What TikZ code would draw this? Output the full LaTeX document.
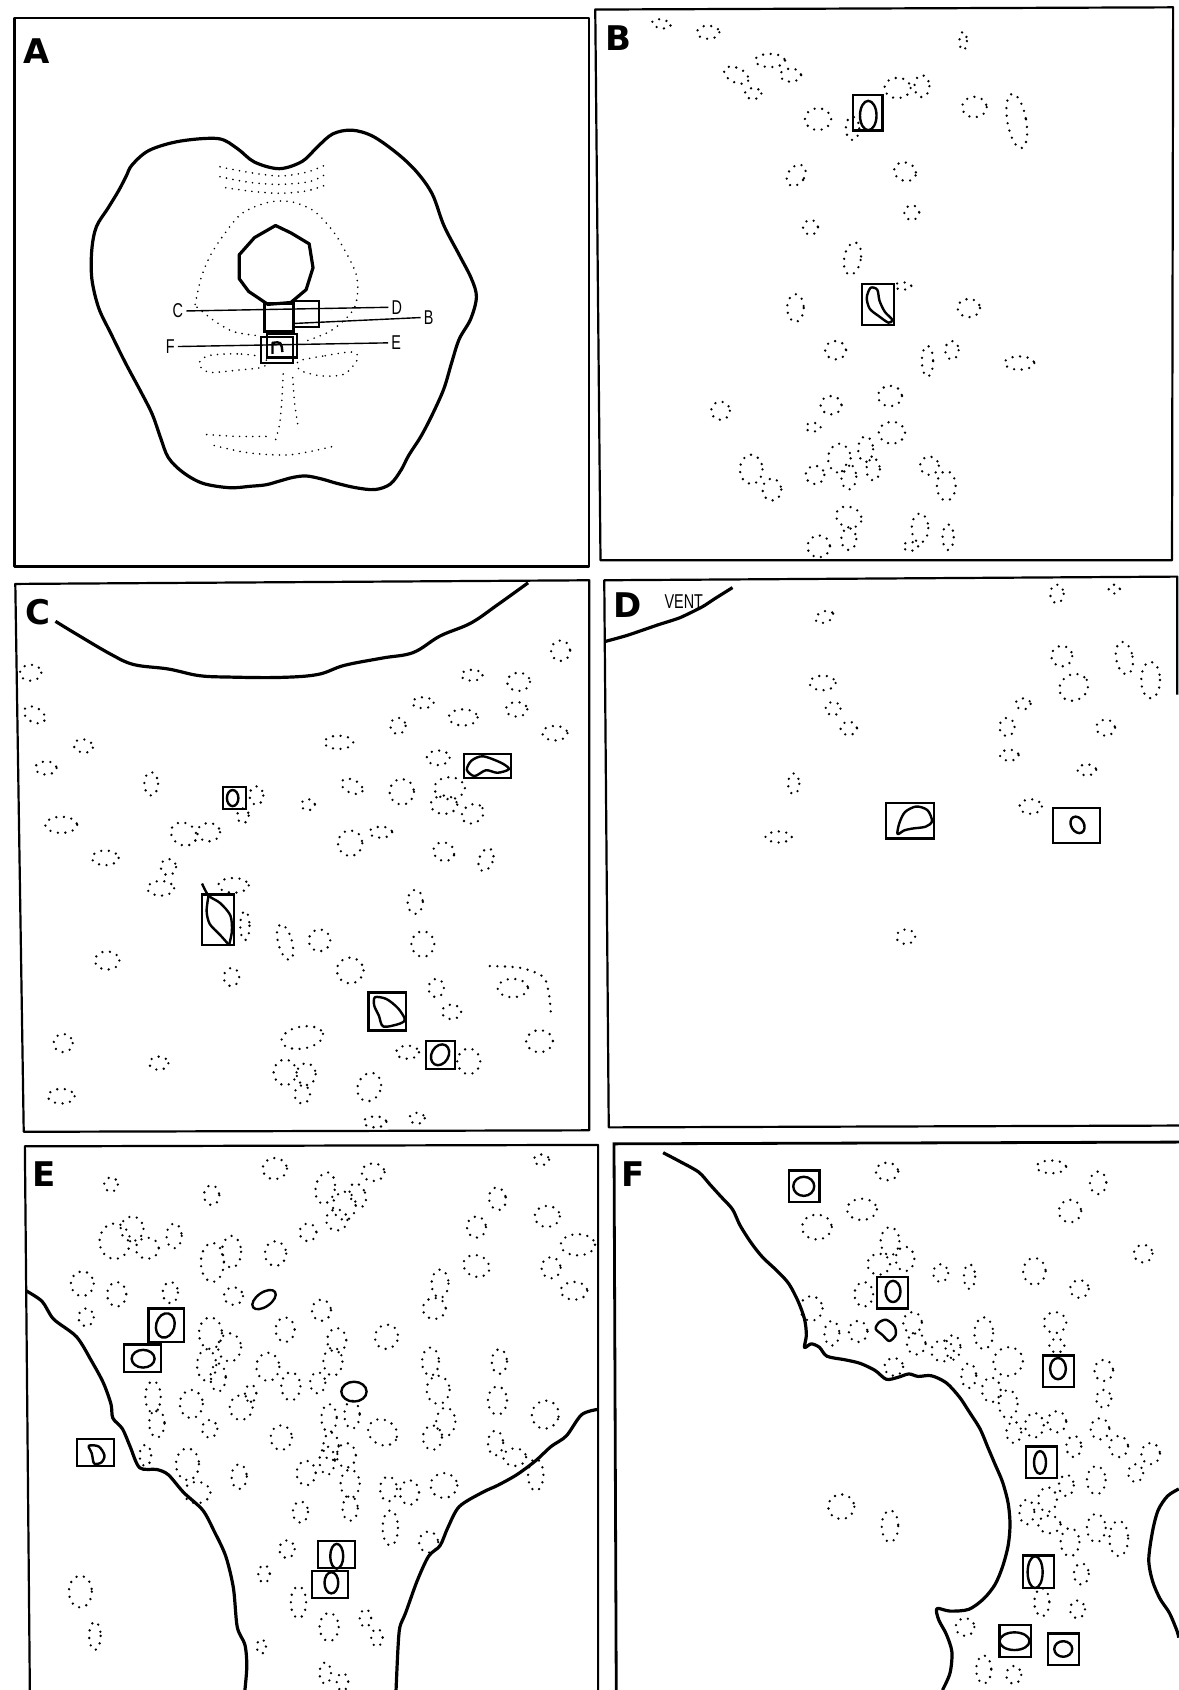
\documentclass[tikz,border=0pt]{standalone}
\usepackage{fontspec}
\newfontfamily\panelfont{DejaVu Sans}
\newfontfamily\tagfont{Liberation Sans}
\begin{document}
\begin{tikzpicture}[x=0.5pt,y=-0.5pt,
  frame/.style={line width=1.1pt, line join=round},
  outline/.style={line width=1.6pt, line join=round},
  cellbox/.style={line width=1.1pt},
  solidcell/.style={line width=1.2pt, line join=round},
  dotcell/.style={line width=1.3pt, line cap=round, dash pattern=on 0pt off 3.8pt},
  dotfine/.style={line width=0.9pt, line cap=round, dash pattern=on 0pt off 3.3pt},
  secline/.style={line width=0.7pt},
  panellabel/.style={font=\panelfont\bfseries\fontsize{17}{17}\selectfont, inner sep=0pt},
  tag/.style={font=\tagfont\fontsize{10}{10}\selectfont, inner sep=2pt, xscale=0.72, transform shape},
]
\useasboundingbox (0,0) rectangle (1178,1690);
\fill[white] (0,0) rectangle (1178,1690);

% ---------------- Panel A: whole section ----------------
\begin{scope}[shift={(0,0)}, x=0.19133pt, y=-0.18335pt]
  \draw[frame] (38,50) rectangle (1540,1545);
  \node[panellabel] (labA) at (95,140) {A};
  % cord outline
  \draw[outline] plot[smooth cycle, tension=0.55] coordinates {
    (345,450) (390,410) (470,385) (570,378) (620,405) (665,442) (730,460)
    (790,440) (830,400) (870,365) (920,355) (975,372) (1040,420) (1090,470)
    (1130,530) (1160,615) (1200,695) (1232,760) (1245,810) (1230,870)
    (1200,925) (1180,990) (1160,1060) (1130,1130) (1100,1190) (1068,1242)
    (1048,1282) (1020,1320) (980,1335) (930,1330) (880,1318) (840,1306)
    (800,1298) (765,1302) (730,1312) (695,1322) (655,1326) (600,1330)
    (530,1318) (478,1288) (440,1248) (420,1195) (398,1130) (368,1068)
    (328,990) (290,910) (258,840) (240,760) (240,680) (252,618) (282,568)
    (310,520) (330,480)};
  % central canal
  \draw[outline] (625,695) -- (665,648) -- (720,615) -- (760,635) -- (808,665)
    -- (818,730) -- (800,790) -- (760,825) -- (700,830) -- (650,795) -- (625,760) -- cycle;
  % dorsal dotted arcs
  \draw[dotfine] plot[smooth] coordinates {(575,455) (650,470) (730,480) (800,470) (850,450)};
  \draw[dotfine] plot[smooth] coordinates {(575,482) (650,497) (730,503) (810,495) (860,470)};
  \draw[dotfine] plot[smooth] coordinates {(590,512) (660,522) (730,527) (800,521) (850,505)};
  % grey matter outline
  \draw[dotfine] plot[smooth] coordinates {(510,830) (525,760) (548,700) (585,640)
    (632,582) (700,552) (760,550) (820,575) (870,630) (905,690) (930,745) (935,790)
    (928,835) (905,868) (860,905) (800,930)};
  \draw[dotfine] plot[smooth] coordinates {(515,838) (560,875) (612,905) (680,916)};
  % ventral lobes
  \draw[dotfine] plot[smooth cycle] coordinates {(690,975) (620,965) (545,970) (520,992)
    (545,1015) (615,1010) (690,1000)};
  \draw[dotfine] plot[smooth cycle] coordinates {(780,985) (850,970) (920,960) (935,978)
    (900,1020) (840,1025) (785,1010)};
  \draw[dotfine] plot[smooth] coordinates {(740,1020) (736,1100) (730,1160) (720,1200)};
  \draw[dotfine] plot[smooth] coordinates {(765,1030) (770,1100) (780,1170)};
  \draw[dotfine] plot[smooth] coordinates {(540,1185) (620,1190) (700,1190)};
  \draw[dotfine] plot[smooth] coordinates {(560,1215) (650,1235) (760,1240) (880,1215)};
  % sampled fields
  \draw[line width=1.5pt] (690,828) rectangle (768,905);
  \draw[cellbox] (765,820) rectangle (833,892);
  \draw[cellbox] (683,918) rectangle (765,990);
  \draw[cellbox] (697,910) rectangle (777,975);
  \draw[solidcell] (712,965) -- (712,935) .. controls (735,932) .. (738,960);
  % section levels
  \node[tag] (tC) at (465,848) {C};
  \node[tag] (tD) at (1037,838) {D};
  \node[tag] (tB) at (1120,866) {B};
  \node[tag] (tF) at (445,945) {F};
  \node[tag] (tE) at (1035,935) {E};
  \coordinate (bStart) at (770,882);
  \draw[secline] (tC.east) -- (tD.west);
  \draw[secline] (bStart) -- (tB.west);
  \draw[secline] (tF.east) -- (tE.west);
\end{scope}

% ---------------- Panel B ----------------
\begin{scope}[shift={(590,0)}, x=0.1875pt, y=-0.18335pt]
  \draw[frame] (14,26) -- (1555,20) -- (1552,1528) -- (28,1528) -- cycle;
  \node[panellabel] (labB) at (75,105) {B};
  \foreach \cx/\cy/\rx/\ry/\rot in {190/65/25/12/-10, 315/88/30/18/0, 480/165/40/18/0,
    390/205/35/20/-25, 535/205/28/18/0, 435/255/22/15/0, 995/112/10/25/0, 820/240/35/28/0,
    885/235/20/30/0, 608/325/35/30/0, 700/350/18/32/0, 1025/292/33/28/0, 1138/330/25/75/10,
    550/478/22/32/-35, 840/468/30/25/-20, 858/580/20/20/0, 588/620/20/20/0, 700/705/22/45/-10,
    835/780/22/10/0, 548/840/22/38/0, 1010/840/30/25/0, 655/955/28/25/0, 900/985/15/42/0,
    965/955/18/25/0, 1145/990/40/18/0, 800/1080/32/28/0, 643/1105/28/25/0, 348/1120/25/25/0,
    595/1165/20/12/0, 805/1180/35/30/0, 430/1280/30/40/0, 485/1335/25/30/0, 600/1295/25/25/0,
    665/1250/30/40/0, 735/1225/20/35/0, 690/1300/20/35/0, 755/1280/18/30/0, 905/1270/25/25/0,
    950/1325/25/40/0, 690/1410/35/28/-20, 690/1470/20/30/0, 610/1490/30/30/0, 880/1440/22/40/0,
    855/1490/20/12/0, 955/1465/15/35/0}
    \draw[dotcell, rotate around={\rot:(\cx,\cy)}] (\cx,\cy) ellipse [x radius=\rx, y radius=\ry];
  \draw[cellbox] (702,258) rectangle (780,356);
  \draw[solidcell] (742,315) ellipse [x radius=22, y radius=40];
  \draw[cellbox] (725,775) rectangle (810,887);
  \draw[solidcell] plot[smooth cycle] coordinates {(748,785) (738,812) (746,842) (770,862)
    (796,880) (806,872) (786,850) (772,820) (766,790)};
\end{scope}

% ---------------- Panel C ----------------
\begin{scope}[shift={(0,570)}, x=0.19133pt, y=-0.18335pt]
  \draw[frame] (40,38) -- (1540,28) -- (1540,1528) -- (62,1532) -- cycle;
  \node[panellabel] (labC) at (100,115) {C};
  \draw[outline] plot[smooth, tension=0.6] coordinates {(145,140) (200,175) (290,230)
    (350,258) (440,270) (520,288) (600,292) (730,293) (830,285) (900,260) (1000,240)
    (1080,225) (1150,180) (1230,145) (1300,95) (1380,35)};
  \foreach \cx/\cy/\rx/\ry/\rot in {80/280/28/22/0, 90/395/30/20/-30, 218/480/25/18/-10,
    120/540/28/18/0, 395/583/18/32/0, 160/695/42/22/0, 480/720/35/30/-30, 545/715/30/25/0,
    635/670/15/20/0, 670/615/18/25/0, 275/785/35/20/0, 440/810/20/22/0, 420/868/35/20/0,
    610/860/40/20/0, 640/970/12/40/0, 280/1065/32/25/0, 605/1110/20/25/0, 745/1015/18/50/15,
    835/1010/28/30/0, 915/1092/35/35/0, 1085/905/20/33/0, 1105/1020/30/35/0, 805/640/18/15/0,
    920/590/30/18/-25, 1050/605/32/35/0, 915/745/32/35/0, 995/715/30/15/0, 885/470/38/18/0,
    1105/362/28/15/0, 1040/425/20/22/0, 1210/402/38/22/0, 1233/287/28/15/0, 1355/305/30/25/0,
    1350/380/28/20/0, 1465/220/25/28/0, 1450/445/33/20/0, 1145/512/30/20/0, 1175/595/40/30/0,
    1160/640/35/25/0, 1235/665/30/25/30, 1160/768/28/25/-20, 1270/790/18/32/-20,
    1140/1140/20/25/0, 1180/1205/25/20/0, 1340/1140/40/25/0, 1410/1285/35/30/0,
    1065/1315/30/18/0, 1225/1340/30/35/0, 790/1275/55/30/10, 745/1370/30/35/0,
    800/1375/25/30/0, 790/1430/20/25/0, 965/1410/30/40/-20, 1090/1495/20/15/0,
    980/1505/30/15/0, 165/1290/25/25/0, 415/1345/25/18/0, 160/1435/35/20/0}
    \draw[dotcell, rotate around={\rot:(\cx,\cy)}] (\cx,\cy) ellipse [x radius=\rx, y radius=\ry];
  \draw[dotcell] plot[smooth] coordinates {(1280,1080) (1360,1085) (1420,1110) (1435,1160) (1440,1215)};
  \draw[cellbox] (583,592) rectangle (642,652);
  \draw[solidcell] (608,622) ellipse [x radius=15, y radius=22];
  \draw[cellbox] (1213,502) rectangle (1335,568);
  \draw[solidcell] plot[smooth cycle] coordinates {(1220,545) (1232,520) (1262,508)
    (1310,526) (1330,543) (1300,553) (1270,546) (1240,562)};
  \draw[cellbox] (528,885) rectangle (612,1022);
  \draw[solidcell] plot[smooth] coordinates {(528,855) (545,888) (575,908) (602,942) (606,985) (598,1025)};
  \draw[solidcell] plot[smooth] coordinates {(545,888) (540,930) (548,965) (575,995) (598,1022)};
  \draw[cellbox] (963,1152) rectangle (1062,1256);
  \draw[solidcell] plot[smooth cycle] coordinates {(980,1165) (1010,1170) (1040,1195)
    (1058,1225) (1045,1237) (1002,1245) (990,1215) (978,1188)};
  \draw[cellbox] (1113,1285) rectangle (1190,1360);
  \draw[solidcell, rotate around={-30:(1150,1322)}] (1150,1322) ellipse [x radius=22, y radius=30];
\end{scope}

% ---------------- Panel D ----------------
\begin{scope}[shift={(590,570)}, x=0.1875pt, y=-0.18335pt]
  \draw[frame] (1566,340) -- (1566,18) -- (38,28) -- (50,1520) -- (1570,1515);
  \node[panellabel] (labD) at (100,95) {D};
  \node[tag] (vent) at (250,85) {VENT};
  \draw[outline] plot[smooth, tension=0.4] coordinates {(40,195) (100,178) (180,150)
    (240,130) (300,100) (330,80) (380,48)};
  \foreach \cx/\cy/\rx/\ry/\rot in {625/128/25/15/20, 620/308/35/20/0, 648/378/20/18/0,
    690/432/22/18/0, 543/583/15/28/0, 503/728/35/15/0, 842/1000/25/20/0, 1245/65/18/25/0,
    1398/52/15/12/0, 1258/235/28/28/0, 1290/320/40/35/30, 1425/240/22/45/10,
    1495/300/25/50/0, 1155/365/20/15/0, 1112/428/20/25/0, 1118/505/25/15/0,
    1375/430/25/22/0, 1325/545/25/15/0, 1175/645/30/20/0}
    \draw[dotcell, rotate around={\rot:(\cx,\cy)}] (\cx,\cy) ellipse [x radius=\rx, y radius=\ry];
  \draw[cellbox] (790,635) rectangle (918,732);
  \draw[solidcell] plot[smooth cycle] coordinates {(820,720) (825,690) (840,660) (870,645)
    (900,655) (912,685) (895,700) (860,705) (838,710)};
  \draw[cellbox] (1235,650) rectangle (1360,745);
  \draw[solidcell, rotate around={30:(1300,695)}] (1300,695) ellipse [x radius=17, y radius=24];
\end{scope}

% ---------------- Panel E ----------------
\begin{scope}[shift={(0,1135)}, x=0.19133pt, y=-0.17698pt]
  \draw[frame] (78,1568) -- (65,32) -- (1563,28) -- (1563,1568);
  \node[panellabel] (labE) at (115,110) {E};
  \draw[outline] plot[smooth, tension=0.5] coordinates {(68,440) (110,470) (140,520)
    (200,570) (240,640) (270,700) (290,760) (295,800) (320,830) (340,880) (365,940)
    (410,945) (440,960) (480,1010) (530,1060) (560,1120) (590,1190) (610,1280) (620,1390)
    (640,1440) (645,1500) (640,1568)};
  \draw[outline] plot[smooth, tension=0.5] coordinates {(1563,775) (1520,790) (1480,850)
    (1440,880) (1400,920) (1350,960) (1300,990) (1260,1010) (1200,1050) (1170,1110)
    (1150,1160) (1120,1190) (1090,1260) (1060,1350) (1045,1390) (1040,1450) (1035,1568)};
  \foreach \cx/\cy/\rx/\ry/\rot in {290/140/18/20/0, 718/95/32/30/0, 553/170/20/28/0,
    850/150/25/45/-10, 900/200/30/40/0, 975/105/30/25/0, 935/170/20/35/20, 1415/70/20/15/0,
    1300/180/22/32/10, 1430/230/33/30/0, 1245/260/25/30/0, 805/275/22/25/0, 880/240/28/30/0,
    300/300/40/50/0, 345/265/30/35/0, 385/320/30/30/0, 455/285/20/35/0, 215/420/30/35/0,
    305/450/25/35/0, 445/445/20/30/0, 225/515/20/25/0, 555/360/30/55/0, 605/330/25/45/0,
    720/335/28/35/0, 610/455/25/25/0, 840/495/25/30/0, 550/560/30/45/0, 600/600/30/40/0,
    540/650/25/45/0, 570/685/20/40/0, 745/550/25/35/0, 880/580/25/35/0, 1010/570/30/35/-20,
    1125/640/22/40/0, 1305/640/20/35/0, 1245/370/35/30/-20, 1150/420/22/40/0,
    1135/490/30/30/0, 1510/310/45/30/0, 1440/375/25/30/0, 1500/440/35/25/0, 700/655/30/40/0,
    760/710/25/40/0, 830/700/20/30/0, 870/640/25/40/0, 400/740/20/45/0, 410/815/20/40/0,
    500/760/30/40/0, 630/770/30/35/0, 655/730/15/25/0, 548/830/20/25/0, 735/855/28/35/0,
    860/800/20/40/0, 920/790/20/40/0, 865/880/20/40/0, 905/905/25/35/0, 1000/840/40/35/-30,
    1145/720/30/40/0, 1165/810/25/40/0, 1130/855/25/35/0, 1300/750/25/40/0, 1295/870/20/35/0,
    1425/790/35/40/-20, 1400/960/20/45/0, 1345/910/30/25/0, 380/905/15/30/0, 490/930/30/45/0,
    515/1010/35/30/0, 625/965/20/35/0, 800/955/25/35/0, 855/920/20/40/0, 915/985/25/40/0,
    915/1055/20/35/0, 1015/1000/22/35/0, 1070/1010/25/35/0, 1160/990/35/35/0,
    1020/1110/20/50/0, 1120/1150/25/30/0, 785/1065/20/30/0, 750/1170/20/25/0,
    690/1240/15/25/0, 780/1320/20/45/0, 860/1390/25/40/0, 955/1365/15/25/0, 985/1420/15/25/0,
    683/1445/12/20/0, 210/1290/30/45/0, 248/1415/15/40/0, 850/1520/15/30/0, 895/1545/15/25/0}
    \draw[dotcell, rotate around={\rot:(\cx,\cy)}] (\cx,\cy) ellipse [x radius=\rx, y radius=\ry];
  \draw[solidcell, rotate around={35:(690,465)}] (690,465) ellipse [x radius=35, y radius=20];
  \draw[solidcell] (925,725) ellipse [x radius=33, y radius=28];
  \draw[cellbox] (388,490) rectangle (481,585);
  \draw[solidcell, rotate around={-15:(432,538)}] (432,538) ellipse [x radius=24, y radius=35];
  \draw[cellbox] (323,592) rectangle (420,670);
  \draw[solidcell] (374,632) ellipse [x radius=30, y radius=25];
  \draw[cellbox] (202,858) rectangle (297,935);
  \draw[solidcell] plot[smooth cycle] coordinates {(232,878) (258,880) (273,905) (265,925) (246,928) (240,900)};
  \draw[cellbox] (832,1146) rectangle (927,1224);
  \draw[solidcell] (880,1190) ellipse [x radius=17, y radius=35];
  \draw[cellbox] (815,1232) rectangle (910,1308);
  \draw[solidcell] (866,1265) ellipse [x radius=18, y radius=30];
\end{scope}

% ---------------- Panel F ----------------
\begin{scope}[shift={(590,1135)}, x=0.1875pt, y=-0.17698pt]
  \draw[line width=1.4pt] (70,1568) -- (64,25) -- (1570,20);
  \node[panellabel] (labF) at (115,110) {F};
  \draw[outline] plot[smooth, tension=0.5] coordinates {(195,50) (240,75) (290,105)
    (320,140) (350,175) (380,210) (400,255) (430,305) (460,345) (500,385) (530,420)
    (555,470) (572,520) (577,565) (572,600) (590,590) (612,600) (632,625) (680,635)
    (720,645) (760,665) (790,690) (820,685) (850,675) (875,682) (910,680) (950,700)
    (985,740) (1010,780) (1040,830) (1060,880) (1080,930) (1100,980) (1115,1040)
    (1120,1100) (1115,1160) (1100,1220) (1080,1270) (1050,1310) (1010,1340) (960,1345)
    (925,1338) (930,1370) (950,1410) (965,1460) (960,1520) (940,1568)};
  \draw[outline] plot[smooth, tension=0.5] coordinates {(1570,1000) (1540,1020) (1515,1060)
    (1500,1120) (1490,1200) (1500,1260) (1520,1310) (1545,1350) (1565,1400) (1570,1420)};
  \foreach \cx/\cy/\rx/\ry/\rot in {792/103/30/25/0, 725/210/40/30/0, 605/260/40/35/0,
    1230/90/40/18/0, 1355/135/22/32/0, 1280/215/30/32/0, 800/300/25/40/0, 770/365/30/30/0,
    840/350/25/35/0, 730/450/25/35/0, 935/390/20/25/0, 1012/400/15/35/0, 1185/385/30/38/0,
    1305/435/25/25/0, 1475/335/25/25/0, 590/490/30/35/0, 645/560/20/35/0, 715/555/25/30/0,
    860/530/25/30/0, 870/590/25/30/0, 940/610/30/30/0, 968/600/20/35/0, 810/655/25/25/0,
    1050/560/25/45/0, 1115/640/40/40/30, 1240/530/30/30/0, 1245/595/20/20/0, 1010/680/20/35/0,
    1070/720/25/35/0, 1115/760/25/40/0, 1130/840/20/30/0, 1185/820/25/35/0, 1245/810/25/30/0,
    1290/880/20/30/0, 1370/665/25/30/0, 1370/745/20/25/0, 1360/830/25/30/0, 1410/880/25/30/0,
    1495/900/25/30/0, 1455/955/20/25/0, 1350/975/25/40/0, 1270/990/20/30/0, 1220/1030/25/35/0,
    1165/1065/20/35/0, 1225/1100/30/25/0, 1280/1150/25/40/0, 1350/1110/25/40/0,
    1410/1140/25/50/0, 1310/1240/20/30/0, 1205/1320/20/40/0, 1300/1340/20/25/0,
    1000/1390/25/25/0, 1050/1510/20/40/0, 1130/1525/20/25/0, 670/1050/35/35/0, 800/1105/22/45/0}
    \draw[dotcell, rotate around={\rot:(\cx,\cy)}] (\cx,\cy) ellipse [x radius=\rx, y radius=\ry];
  \draw[solidcell] plot[smooth cycle] coordinates {(770,530) (790,522) (812,540) (815,565) (798,582) (780,565) (762,548)};
  \draw[cellbox] (530,100) rectangle (612,190);
  \draw[solidcell] (570,145) ellipse [x radius=28, y radius=27];
  \draw[cellbox] (765,400) rectangle (848,490);
  \draw[solidcell] (808,442) ellipse [x radius=20, y radius=30];
  \draw[cellbox] (1208,623) rectangle (1290,713);
  \draw[solidcell] (1248,660) ellipse [x radius=21, y radius=30];
  \draw[cellbox] (1162,880) rectangle (1245,970);
  \draw[solidcell] (1200,925) ellipse [x radius=16, y radius=32];
  \draw[cellbox] (1155,1188) rectangle (1237,1280);
  \draw[solidcell] (1187,1235) ellipse [x radius=20, y radius=45];
  \draw[cellbox] (1092,1385) rectangle (1175,1475);
  \draw[solidcell] (1132,1430) ellipse [x radius=40, y radius=25];
  \draw[cellbox] (1222,1408) rectangle (1305,1498);
  \draw[solidcell] (1262,1452) ellipse [x radius=24, y radius=22];
\end{scope}
\end{tikzpicture}
\end{document}
